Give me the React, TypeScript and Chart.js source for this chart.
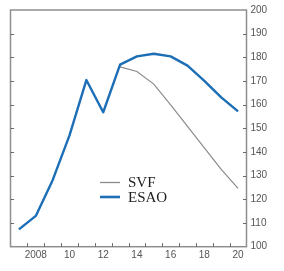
import React, { useEffect, useRef } from "react";
import { Chart, registerables } from "chart.js";

Chart.register(...registerables);

// ---- data ----
const years = ["2007", "2008", "2009", "2010", "2011", "2012", "2013", "2014", "2015", "2016", "2017", "2018", "2019", "2020"];
const esao = [107.3, 113.0, 128.1, 147.0, 170.4, 156.8, 176.9, 180.4, 181.5, 180.4, 176.5, 170.1, 163.1, 157.2];
const svf = [null, null, null, null, null, null, 176.0, 174.0, 168.7, 159.9, 150.8, 141.8, 132.7, 124.6];
const labeledYears = ["2008", "2010", "2012", "2014", "2016", "2018", "2020"];
const labelTexts = ["2008", "10", "12", "14", "16", "18", "20"];
const seriesNames = ["SVF", "ESAO"];
const yMin = 100;
const yMax = 200;
const yStep = 10;

const BLUE = "#1c6eb6";
const GRAY = "#8c8c8c";

const framePlugin = {
  id: "frameAndLegend",
  afterDraw(chart: any) {
    const { ctx, chartArea: a, scales } = chart;
    ctx.save();
    // frame
    ctx.strokeStyle = "#8e8e8e";
    ctx.lineWidth = 1.5;
    ctx.strokeRect(a.left, a.top, a.right - a.left, a.bottom - a.top);
    // inner tick marks
    ctx.strokeStyle = "#6a6a6a";
    ctx.lineWidth = 1;
    ctx.beginPath();
    for (const t of scales.y.ticks) {
      if (t.value <= yMin || t.value >= yMax) continue;
      const y = Math.round(scales.y.getPixelForValue(t.value)) + 0.5;
      ctx.moveTo(a.left, y);
      ctx.lineTo(a.left + 3.5, y);
      ctx.moveTo(a.right - 3.5, y);
      ctx.lineTo(a.right, y);
    }
    for (let i = 1; i < years.length; i++) {
      const x = Math.round((scales.x.getPixelForValue(i - 1) + scales.x.getPixelForValue(i)) / 2) + 0.5;
      ctx.moveTo(x, a.bottom);
      ctx.lineTo(x, a.bottom - 3.5);
    }
    ctx.stroke();
    // legend
    ctx.lineWidth = 1.3;
    ctx.strokeStyle = GRAY;
    ctx.beginPath();
    ctx.moveTo(100, 182.5);
    ctx.lineTo(120, 182.5);
    ctx.stroke();
    ctx.lineWidth = 2.6;
    ctx.strokeStyle = BLUE;
    ctx.beginPath();
    ctx.moveTo(100, 197);
    ctx.lineTo(120, 197);
    ctx.stroke();
    ctx.fillStyle = "#1e1e1e";
    ctx.font = '15px "Liberation Serif", "Times New Roman", serif';
    ctx.textBaseline = "alphabetic";
    ctx.textAlign = "left";
    ctx.fillText(seriesNames[0], 128, 187);
    ctx.fillText(seriesNames[1], 128, 202);
    ctx.restore();
  },
};

export default function App() {
  const ref = useRef<HTMLCanvasElement | null>(null);

  useEffect(() => {
    document.body.style.margin = "0";
    const canvas = ref.current;
    if (!canvas) return;
    const chart = new Chart(canvas, {
      type: "line",
      data: {
        labels: years,
        datasets: [
          {
            label: seriesNames[1],
            data: esao,
            borderColor: BLUE,
            borderWidth: 2.4,
            pointRadius: 0,
            tension: 0,
            order: 0,
            borderJoinStyle: "round",
          },
          {
            label: seriesNames[0],
            data: svf as any,
            borderColor: GRAY,
            borderWidth: 1.2,
            pointRadius: 0,
            tension: 0,
            order: 1,
            spanGaps: false,
          },
        ],
      },
      options: {
        animation: false,
        responsive: false,
        devicePixelRatio: 1,
        layout: { padding: { left: 10.5, top: 9, right: 0, bottom: 0 } },
        plugins: {
          legend: { display: false },
          tooltip: { enabled: false },
        },
        scales: {
          x: {
            type: "category",
            offset: true,
            grid: { display: false, drawTicks: false, offset: true },
            border: { display: false },
            afterFit(scale: any) {
              scale.height = 24.3;
            },
            ticks: {
              autoSkip: false,
              maxRotation: 0,
              minRotation: 0,
              padding: 3,
              color: "#555",
              font: { family: "Arial, 'Liberation Sans', sans-serif", size: 10 },
              callback: (_v: any, i: number) => {
                const k = labeledYears.indexOf(years[i]);
                return k >= 0 ? labelTexts[k] : "";
              },
            },
          },
          y: {
            position: "right",
            min: yMin,
            max: yMax,
            grid: { display: false, drawTicks: false },
            border: { display: false },
            afterFit(scale: any) {
              scale.width = 37.5;
            },
            ticks: {
              stepSize: yStep,
              padding: 4,
              color: "#555",
              font: { family: "Arial, 'Liberation Sans', sans-serif", size: 10 },
            },
          },
        },
      },
      plugins: [framePlugin],
    } as any);
    return () => chart.destroy();
  }, []);

  return (
    <div style={{ width: 284, height: 271, background: "#fff" }}>
      <canvas ref={ref} width={284} height={271} style={{ display: "block", width: 284, height: 271 }} />
    </div>
  );
}
